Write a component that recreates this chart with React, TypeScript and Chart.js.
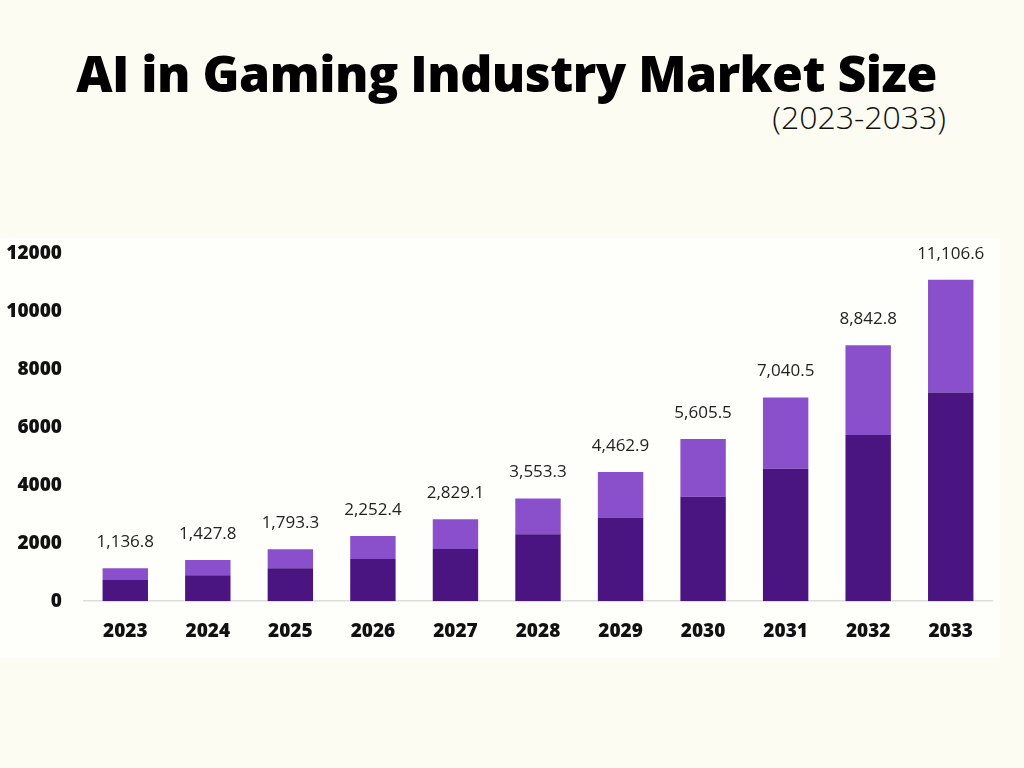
import React, { useEffect, useRef } from "react";
import { Chart, registerables } from "chart.js";

Chart.register(...registerables);

const years = ["2023", "2024", "2025", "2026", "2027", "2028", "2029", "2030", "2031", "2032", "2033"];
const totalValues = [1136.8, 1427.8, 1793.3, 2252.4, 2829.1, 3553.3, 4462.9, 5605.5, 7040.5, 8842.8, 11106.6];
const baseValues = [730, 900, 1135, 1455, 1805, 2315, 2890, 3610, 4580, 5740, 7210];
const yTicks = [0, 2000, 4000, 6000, 8000, 10000, 12000];

const DARK = "#4b1581";
const LIGHT = "#8a4fca";

const totalsPlugin = {
  id: "totals",
  afterDatasetsDraw(chart: any) {
    const ctx = chart.ctx;
    const meta = chart.getDatasetMeta(1);
    ctx.save();
    ctx.font = "400 17px 'Open Sans', sans-serif";
    ctx.fillStyle = "#222222";
    ctx.textAlign = "center";
    ctx.textBaseline = "middle";
    meta.data.forEach((bar: any, i: number) => {
      const label = totalValues[i].toLocaleString("en-US", { minimumFractionDigits: 1, maximumFractionDigits: 1 });
      ctx.fillText(label, bar.x, bar.y - 26);
    });
    ctx.restore();
  },
};

export default function App() {
  const ref = useRef<HTMLCanvasElement>(null);
  useEffect(() => {
    if (!ref.current) return;
    const topValues = totalValues.map((t, i) => +(t - baseValues[i]).toFixed(1));
    const chart = new Chart(ref.current, {
      type: "bar",
      data: {
        labels: years,
        datasets: [
          { label: "Base", data: baseValues, backgroundColor: DARK, barPercentage: 0.55, categoryPercentage: 1 },
          { label: "Top", data: topValues, backgroundColor: LIGHT, barPercentage: 0.55, categoryPercentage: 1 },
        ],
      },
      options: {
        animation: false,
        responsive: false,
        layout: { padding: { top: 254, left: 0, right: 32, bottom: 106 } },
        plugins: { legend: { display: false }, tooltip: { enabled: false } },
        scales: {
          x: {
            stacked: true,
            grid: { display: false, drawTicks: false },
            border: { display: true, color: "#dcdcdc", width: 1.5 },
            ticks: { color: "#111111", font: { family: "'Open Sans', sans-serif", size: 19, weight: "800" }, padding: 19 },
          },
          y: {
            stacked: true,
            min: 0,
            max: 12000,
            afterBuildTicks: (scale: any) => {
              scale.ticks = yTicks.map((v) => ({ value: v }));
            },
            afterFit: (scale: any) => {
              scale.width = 84;
            },
            grid: { display: false, drawTicks: false },
            border: { display: false },
            ticks: {
              color: "#111111",
              padding: 22,
              font: { family: "'Open Sans', sans-serif", size: 19, weight: "800" },
              callback: (v: any) => String(v),
            },
          },
        },
      },
      plugins: [totalsPlugin],
    });
    return () => chart.destroy();
  }, []);

  return (
    <div style={{ position: "absolute", left: 0, top: 0, width: 1024, height: 768, background: "#fcfcf3", overflow: "hidden" }}>
      <div style={{ position: "absolute", left: 0, top: 238, width: 1000, height: 420, background: "#fefefb" }} />
      <div
        style={{
          position: "absolute",
          left: 0,
          width: 1013,
          top: 42,
          textAlign: "center",
          fontFamily: "'Open Sans', sans-serif",
          fontWeight: 800,
          fontSize: 50,
          lineHeight: "62px",
          color: "#000",
          letterSpacing: -0.5,
          whiteSpace: "nowrap",
        }}
      >
        AI in Gaming Industry Market Size
      </div>
      <div
        style={{
          position: "absolute",
          right: 78,
          top: 96,
          fontFamily: "'Open Sans', sans-serif",
          fontWeight: 300,
          fontSize: 32,
          lineHeight: "42px",
          color: "#111",
        }}
      >
        (2023-2033)
      </div>
      <canvas ref={ref} width={1024} height={768} style={{ position: "absolute", left: 0, top: 0 }} />
    </div>
  );
}
